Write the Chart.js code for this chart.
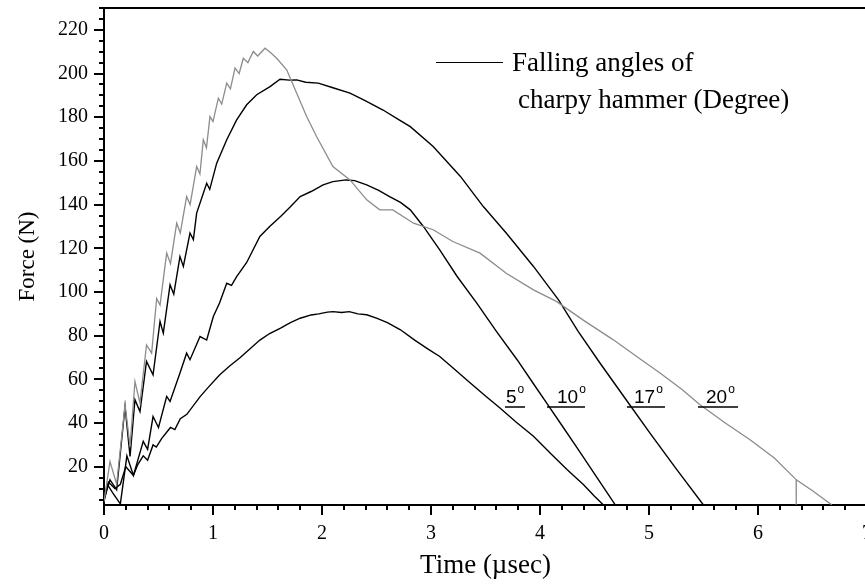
<!DOCTYPE html>
<html>
<head>
<meta charset="utf-8">
<script src="https://cdn.jsdelivr.net/npm/chart.js@4.4.1/dist/chart.umd.min.js"></script>
<style>
  html, body { margin: 0; padding: 0; background: #fff; overflow: hidden; }
</style>
</head>
<body>
<canvas id="chart" width="880" height="588"></canvas>
<script>
// values: time (usec) / force (N) for each falling angle
const t5  = [0, 0.04, 0.1, 0.15, 0.2, 0.27, 0.31, 0.36, 0.4, 0.45, 0.48, 0.53, 0.61, 0.65, 0.7, 0.76, 0.88, 0.95, 1.06, 1.15, 1.25, 1.34, 1.43, 1.52, 1.62, 1.71, 1.8, 1.9, 1.97, 2.05, 2.1, 2.18, 2.25, 2.33, 2.41, 2.5, 2.6, 2.72, 2.85, 2.97, 3.08, 3.2, 3.35, 3.5, 3.63, 3.78, 3.94, 4.1, 4.25, 4.4, 4.5, 4.58];
const f5  = [4, 13, 10, 12, 20, 16, 21, 25, 23, 30, 29, 33, 38, 37, 42, 44, 52, 56, 62, 66, 70, 74, 78, 81, 83.5, 86, 88, 89.5, 90, 90.8, 91, 90.6, 91, 90, 89.6, 88, 86, 82.7, 78, 74, 70.5, 65.3, 58.8, 52.4, 47, 40.5, 34, 26, 18.6, 11.8, 6.5, 2.6];

const t10 = [0, 0.03, 0.08, 0.15, 0.21, 0.27, 0.36, 0.40, 0.45, 0.50, 0.575, 0.606, 0.697, 0.758, 0.789, 0.881, 0.942, 1.003, 1.06, 1.126, 1.17, 1.217, 1.309, 1.43, 1.52, 1.62, 1.71, 1.80, 1.9, 2.01, 2.1, 2.22, 2.3, 2.41, 2.52, 2.62, 2.72, 2.81, 2.93, 3.08, 3.24, 3.42, 3.60, 3.79, 3.94, 4.06, 4.2, 4.35, 4.5, 4.6, 4.69];
const f10 = [5, 12, 8, 3, 25, 16, 31.6, 28, 43, 38, 52.2, 49.9, 62.9, 72, 69, 79.6, 78, 88.8, 95, 104, 103, 107, 113.5, 125.4, 130, 134.6, 139, 143.7, 146, 149, 150.5, 151.3, 151, 149, 146.5, 143.7, 141, 137.6, 130, 119.3, 107.1, 94.9, 82, 69, 58, 49.2, 39, 28, 16.7, 9.3, 2.6];

const t17 = [0, 0.055, 0.116, 0.193, 0.239, 0.284, 0.33, 0.39, 0.45, 0.514, 0.544, 0.606, 0.64, 0.697, 0.728, 0.789, 0.82, 0.85, 0.942, 0.97, 1.034, 1.126, 1.217, 1.309, 1.401, 1.523, 1.615, 1.70, 1.768, 1.85, 1.966, 2.1, 2.257, 2.4, 2.56, 2.7, 2.81, 3.02, 3.27, 3.48, 3.69, 3.94, 4.17, 4.35, 4.55, 4.8, 5.009, 5.25, 5.498];
const f17 = [5, 14, 9.5, 47.6, 24.7, 50.7, 45.3, 68.2, 62.1, 86.5, 81.2, 103.3, 99, 116.2, 111.7, 127, 124, 136.1, 149.8, 147, 159, 169.7, 178.8, 185.7, 190.3, 194, 197.4, 197, 197.1, 196, 195.6, 193.5, 191, 187.5, 183.3, 179, 175.7, 166.6, 152.9, 139.1, 127, 111.7, 96.4, 82, 67.5, 50, 35.4, 19, 2.6];

const t20 = [0, 0.055, 0.116, 0.193, 0.239, 0.284, 0.33, 0.39, 0.437, 0.483, 0.514, 0.575, 0.61, 0.667, 0.70, 0.758, 0.79, 0.85, 0.88, 0.911, 0.94, 0.972, 1.0, 1.049, 1.08, 1.126, 1.16, 1.202, 1.24, 1.278, 1.32, 1.37, 1.41, 1.477, 1.53, 1.584, 1.676, 1.768, 1.859, 1.95, 2.10, 2.257, 2.41, 2.53, 2.65, 2.84, 3.02, 3.20, 3.45, 3.69, 3.94, 4.15, 4.40, 4.673, 4.9, 5.101, 5.3, 5.468, 5.7, 5.927, 6.15, 6.35, 6.35, 6.352, 6.5, 6.676];
const f20 = [4, 22.4, 12, 48.4, 29.3, 59, 49.2, 75.8, 72, 97, 94, 117.8, 113, 131.5, 127, 143.7, 140, 157.4, 154, 169.7, 166, 180.3, 178, 188.7, 186, 195.6, 193, 202.5, 200, 207, 205, 210.1, 208, 211.6, 209.5, 207, 201.7, 191, 180.3, 171.2, 157.4, 151.3, 142.2, 137.6, 137.6, 131.5, 128.5, 123.1, 117.8, 108.6, 101, 95.7, 87, 78.1, 70, 62.9, 55.5, 48.4, 40, 32.4, 24, 14.1, 2.6, 14.1, 9, 2.6];

const xTicks = [0, 1, 2, 3, 4, 5, 6, 7];
const yTicks = [20, 40, 60, 80, 100, 120, 140, 160, 180, 200, 220];
const angleLabels = ['5', '10', '17', '20'];

function pts(xs, ys) {
    return xs.map((x, i) => ({ x: x, y: ys[i] }));
}

const serif = "'Liberation Serif', 'Times New Roman', serif";
const sans = "'Liberation Sans', Arial, sans-serif";

// minor/major tick marks, top frame, legend text and the angle labels
const decor = {
    id: 'decor',
    afterDraw(chart) {
        const ctx = chart.ctx;
        const xs = chart.scales.x, ys = chart.scales.y;
        const a = chart.chartArea;
        ctx.save();
        ctx.strokeStyle = '#000';
        ctx.lineWidth = 2;
        ctx.beginPath();
        ctx.moveTo(a.left - 1, a.top);
        ctx.lineTo(a.right, a.top);
        ctx.stroke();

        for (let v = 5; v <= 230; v += 5) {
            const py = Math.round(ys.getPixelForValue(v));
            const len = v % 20 === 0 ? 10 : 5;
            ctx.beginPath();
            ctx.moveTo(a.left - len, py);
            ctx.lineTo(a.left, py);
            ctx.stroke();
        }
        for (let i = 0; i <= 35; i++) {
            const px = Math.round(xs.getPixelForValue(i * 0.2));
            const len = i % 5 === 0 ? 10 : 5;
            ctx.beginPath();
            ctx.moveTo(px, a.bottom);
            ctx.lineTo(px, a.bottom + len);
            ctx.stroke();
        }

        // legend
        ctx.lineWidth = 1;
        ctx.beginPath();
        ctx.moveTo(436, 62.5);
        ctx.lineTo(503, 62.5);
        ctx.stroke();
        ctx.fillStyle = '#000';
        ctx.font = '27px ' + serif;
        ctx.textBaseline = 'alphabetic';
        ctx.fillText('Falling angles of', 512, 71);
        ctx.fillText('charpy hammer (Degree)', 518, 108);

        // angle labels
        const spots = [[506, 505, 525], [557, 547, 585], [634, 627, 665], [706, 698, 738]];
        angleLabels.forEach((lab, i) => {
            const s = spots[i];
            ctx.font = '19px ' + sans;
            ctx.fillText(lab, s[0], 403);
            const w = ctx.measureText(lab).width;
            ctx.font = '12px ' + sans;
            ctx.fillText('o', s[0] + w + 1, 393);
            ctx.lineWidth = 1.5;
            ctx.beginPath();
            ctx.moveTo(s[1], 407);
            ctx.lineTo(s[2], 407);
            ctx.stroke();
        });
        ctx.restore();
    }
};

const ctx = document.getElementById('chart').getContext('2d');
const chart = new Chart(ctx, {
    type: 'line',
    data: {
        datasets: [
            { label: '20', data: pts(t20, f20), borderColor: '#8c8c8c', borderWidth: 1.3 },
            { label: '5', data: pts(t5, f5), borderColor: '#000', borderWidth: 1.4 },
            { label: '10', data: pts(t10, f10), borderColor: '#000', borderWidth: 1.4 },
            { label: '17', data: pts(t17, f17), borderColor: '#000', borderWidth: 1.4 }
        ]
    },
    options: {
        responsive: false,
        animation: false,
        devicePixelRatio: 1,
        elements: { point: { radius: 0 }, line: { tension: 0 } },
        layout: { padding: { left: 0, top: 8, right: 13, bottom: 0 } },
        plugins: { legend: { display: false }, tooltip: { enabled: false } },
        scales: {
            x: {
                type: 'linear',
                min: 0,
                max: 7,
                afterBuildTicks: (axis) => { axis.ticks = xTicks.map(v => ({ value: v })); },
                afterFit: (axis) => {
                    axis.height = 83;
                    axis.paddingLeft = 0;
                    axis.paddingRight = 0;
                },
                grid: { display: false },
                border: { display: true, color: '#000', width: 2 },
                ticks: { color: '#000', padding: 9, maxRotation: 0, font: { family: serif, size: 20 } },
                title: { display: true, text: 'Time (\u00b5sec)', color: '#000', padding: { bottom: 6 }, font: { family: serif, size: 27 } }
            },
            y: {
                type: 'linear',
                min: 2.5,
                max: 230,
                afterBuildTicks: (axis) => { axis.ticks = yTicks.map(v => ({ value: v })); },
                afterFit: (axis) => {
                    axis.width = 104;
                    axis.paddingTop = 0;
                    axis.paddingBottom = 0;
                },
                grid: { display: false },
                border: { display: true, color: '#000', width: 2 },
                ticks: { color: '#000', padding: 8, font: { family: serif, size: 20 } },
                title: { display: true, text: 'Force (N)', color: '#000', padding: { top: 14 }, font: { family: serif, size: 23 } }
            }
        }
    },
    plugins: [decor]
});
</script>
</body>
</html>
